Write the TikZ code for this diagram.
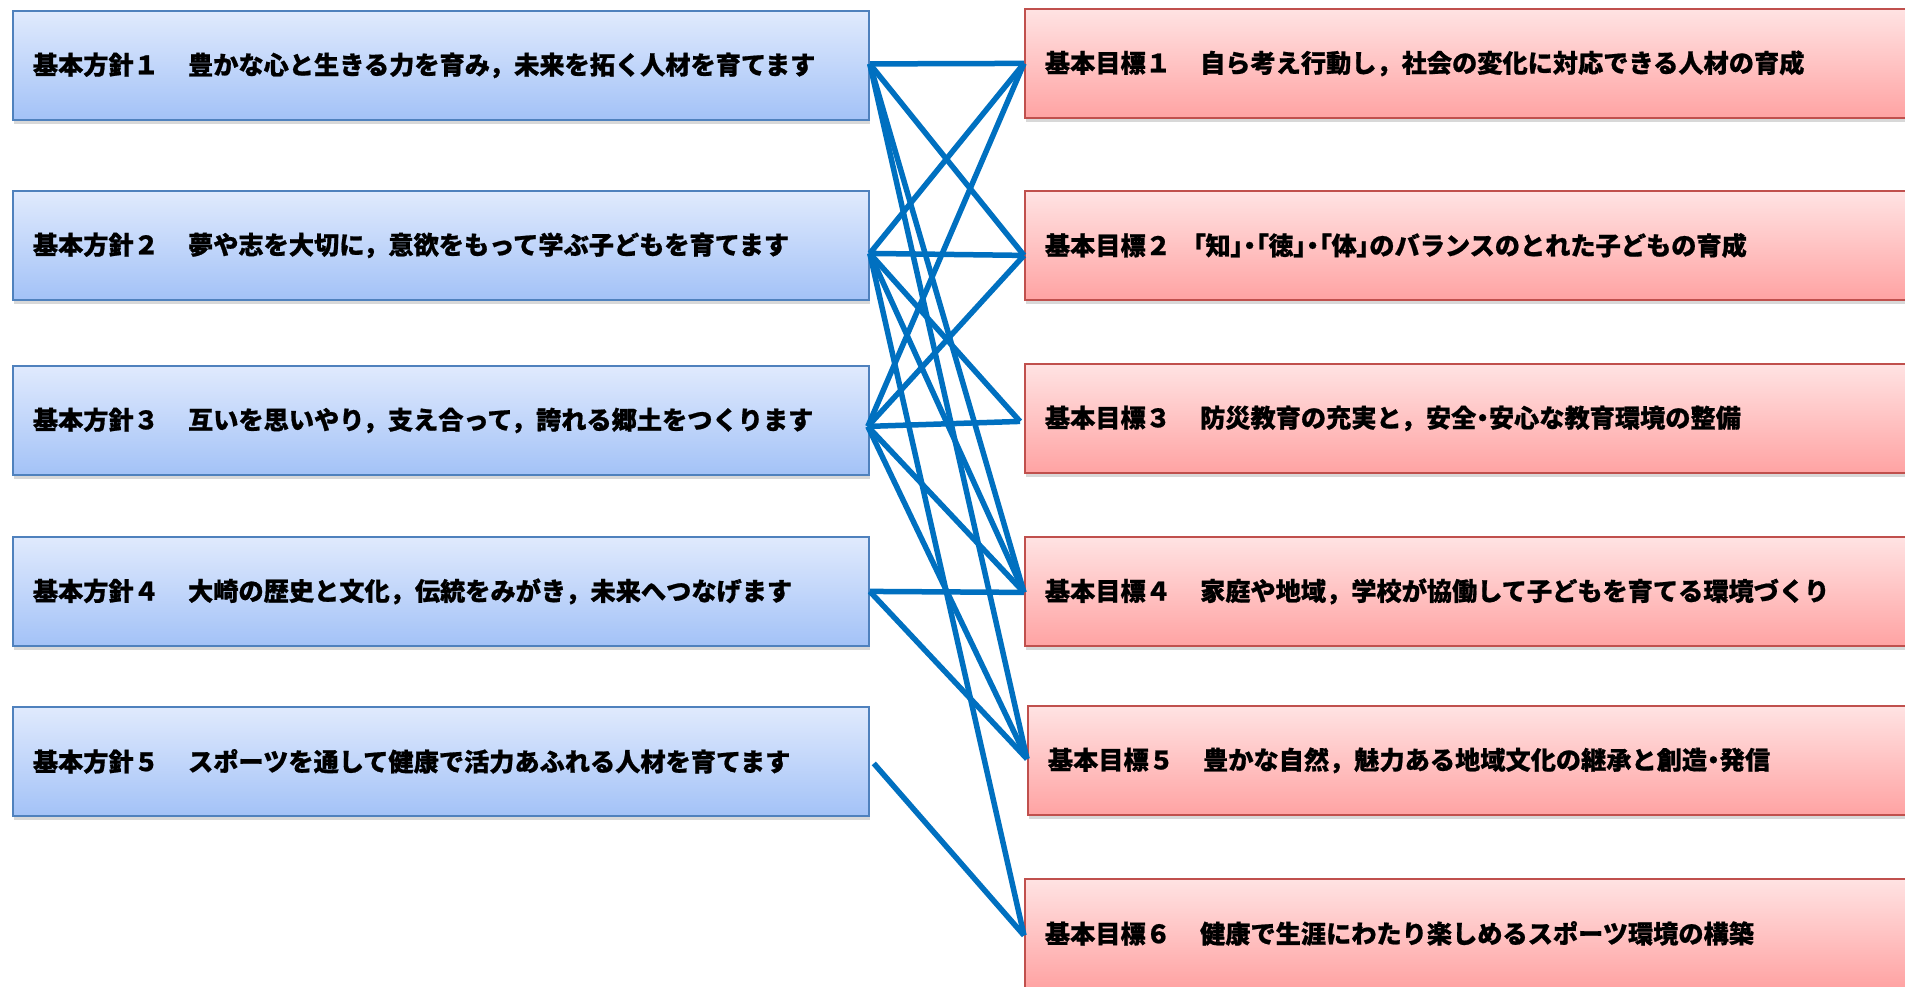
\documentclass[tikz,border=0pt]{standalone}
\usepackage{fontspec}
\setmainfont{Noto Sans CJK JP}
\usetikzlibrary{shadows,calc}
\definecolor{lineblue}{HTML}{0070C0}
\definecolor{ltop}{HTML}{E0EAFD}
\definecolor{lbot}{HTML}{A3C2F7}
\definecolor{lborder}{HTML}{4F81BD}
\definecolor{rtop}{HTML}{FFE3E3}
\definecolor{rbot}{HTML}{FFA3A3}
\definecolor{rborder}{HTML}{C0504D}
\newcommand{\gap}{　\hspace{4pt}}
\newcommand{\prop}[1]{{\addfontfeature{RawFeature=+palt}#1}}
\tikzset{
  boxbase/.style={rectangle, anchor=north west, minimum height=109pt,
    inner xsep=20pt, inner ysep=0pt, align=left,
    font=\fontsize{25.2pt}{30pt}\selectfont\bfseries\addfontfeature{FakeBold=0.8},
    text=black, line width=1.8pt,
    drop shadow={shadow xshift=1.5pt, shadow yshift=-4pt, opacity=0.3}},
  lbox/.style={boxbase, draw=lborder, top color=ltop, bottom color=lbot,
    minimum width=856pt, text width=816pt},
  rbox/.style={boxbase, draw=rborder, top color=rtop, bottom color=rbot,
    minimum width=906pt, text width=866pt},
  conn/.style={draw=lineblue, line width=5.5pt}
}
\begin{document}
\begin{tikzpicture}[x=1pt,y=-1pt]
\useasboundingbox (0,0) rectangle (1905,986);
\fill[white] (0,0) rectangle (1905,986);
\clip (0,0) rectangle (1905,986);
% left boxes
\node[lbox] (lb1) at (12,10)  {基本方針１\gap 豊かな心と生きる力を育み，未来を拓く人材を育てます};
\node[lbox] (lb2) at (12,190) {基本方針２\gap 夢や志を大切に，意欲をもって学ぶ子どもを育てます};
\node[lbox] (lb3) at (12,365) {基本方針３\gap 互いを思いやり，支え合って，誇れる郷土をつくります};
\node[lbox] (lb4) at (12,536) {基本方針４\gap 大崎の歴史と文化，伝統をみがき，未来へつなげます};
\node[lbox] (lb5) at (12,706) {基本方針５\gap スポーツを通して健康で活力あふれる人材を育てます};
% right boxes
\node[rbox] (rb1) at (1024,8)   {基本目標１\gap 自ら考え行動し，社会の変化に対応できる人材の育成};
\node[rbox] (rb2) at (1024,190) {基本目標２\hspace{22pt}\prop{「知」・「徳」・「体」}のバランスのとれた子どもの育成};
\node[rbox] (rb3) at (1024,363) {基本目標３\gap 防災教育の充実と，安全\prop{・}安心な教育環境の整備};
\node[rbox] (rb4) at (1024,536) {基本目標４\gap 家庭や地域，学校が協働して子どもを育てる環境づくり};
\node[rbox] (rb5) at (1027,705) {基本目標５\gap 豊かな自然，魅力ある地域文化の継承と創造\prop{・}発信};
\node[rbox] (rb6) at (1024,878) {基本目標６\gap 健康で生涯にわたり楽しめるスポーツ環境の構築};
% connector end points
\coordinate (a1) at ($(lb1.east)+(0,-1.5)$);
\coordinate (a2) at ($(lb2.east)+(0,8)$);
\coordinate (a3) at ($(lb3.east)+(-2,6)$);
\coordinate (a4) at ($(lb4.east)+(0,0)$);
\coordinate (a5) at ($(lb5.east)+(4,2)$);
\coordinate (b1) at ($(rb1.west)+(0,0)$);
\coordinate (b2) at ($(rb2.west)+(0,10)$);
\coordinate (b3) at ($(rb3.west)+(-4,3)$);
\coordinate (b4) at ($(rb4.west)+(0,1)$);
\coordinate (b5) at ($(rb5.west)+(0,-1.5)$);
\coordinate (b6) at ($(rb6.west)+(0,2)$);
% connectors
\draw[conn] (a1) -- (b1);
\draw[conn] (a1) -- (b2);
\draw[conn] (a1) -- (b4);
\draw[conn] (a1) -- (b5);
\draw[conn] (a2) -- (b1);
\draw[conn] (a2) -- (b2);
\draw[conn] (a2) -- (b3);
\draw[conn] (a2) -- (b4);
\draw[conn] (a2) -- (b6);
\draw[conn] (a3) -- (b1);
\draw[conn] (a3) -- (b2);
\draw[conn] (a3) -- (b3);
\draw[conn] (a3) -- (b4);
\draw[conn] (a3) -- (b5);
\draw[conn] (a4) -- (b4);
\draw[conn] (a4) -- (b5);
\draw[conn] (a5) -- (b6);
\end{tikzpicture}
\end{document}
